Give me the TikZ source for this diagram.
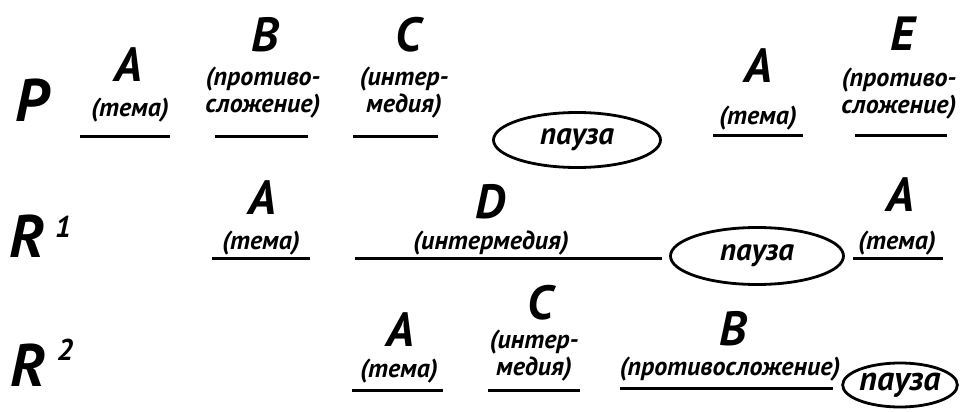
\documentclass[tikz,border=0pt]{standalone}
\usepackage{fontspec}
\setmainfont{PT Sans}
\usetikzlibrary{shapes.geometric}
\begin{document}
\begin{tikzpicture}[x=1pt,y=-1pt,
  big/.style={font=\fontsize{48}{48}\selectfont\bfseries\itshape, inner sep=0pt, text depth=0pt},
  rowlab/.style={font=\fontsize{60}{60}\selectfont\bfseries\itshape, inner sep=0pt},
  sup/.style={font=\fontsize{30}{30}\selectfont\bfseries\itshape, inner sep=0pt},
  lab/.style={font=\fontsize{26}{27}\selectfont\bfseries\itshape, inner sep=0pt, align=center},
  ul/.style={line width=3pt},
  pausebox/.style={ellipse, draw, line width=2.8pt, inner sep=0pt, font=\fontsize{31}{31}\selectfont\bfseries\itshape}
]
\useasboundingbox (0,0) rectangle (967,412);
% Row P
\node[rowlab] (P) at (32,100) {P};
\node[big] (pA) at (128,65) {A};
\node[lab] (pAt) at (130,110) {(тема)};
\draw[ul] (80,136) -- (170,136);
\node[big] (pB) at (265,34) {B};
\node[lab] (pBt) at (263,93) {(противо-\\сложение)};
\draw[ul] (215,136) -- (308,136);
\node[big] (pC) at (408,34) {C};
\node[lab] (pCt) at (404,93) {(интер-\\медия)};
\draw[ul] (353,136) -- (438,136);
\node[pausebox, minimum width=167, minimum height=55] (pP) at (577,140) {пауза};
\node[big] (pA2) at (758,66) {A};
\node[lab] (pA2t) at (758,118) {(тема)};
\draw[ul] (713,135) -- (803,135);
\node[big] (pE) at (903,34) {E};
\node[lab] (pEt) at (899,94) {(противо-\\сложение)};
\draw[ul] (855,135) -- (947,135);
% Row R1
\node[rowlab] (R1) at (27,236) {R};
\node[sup] (R1s) at (63,227) {1};
\node[big] (rA) at (262,198) {A};
\node[lab] (rAt) at (261,243) {(тема)};
\draw[ul] (212,258) -- (310,258);
\node[big] (rD) at (490,201) {D};
\node[lab] (rDt) at (491,243) {(интермедия)};
\draw[ul] (355,258) -- (662,258);
\node[pausebox, minimum width=173, minimum height=57] (rP) at (757,256) {пауза};
\node[big] (rA2) at (900,195) {A};
\node[lab] (rA2t) at (897,243) {(тема)};
\draw[ul] (853,258) -- (943,258);
% Row R2
\node[rowlab] (R2) at (28,365) {R};
\node[sup] (R2s) at (65,350) {2};
\node[big] (sA) at (400,330) {A};
\node[lab] (sAt) at (399,371) {(тема)};
\draw[ul] (352,390) -- (443,390);
\node[big] (sC) at (540,302) {C};
\node[lab] (sCt) at (534,356) {(интер-\\медия)};
\draw[ul] (488,390) -- (580,390);
\node[big] (sB) at (733,328) {B};
\node[lab] (sBt) at (730,369) {(противосложение)};
\draw[ul] (620,388) -- (833,388);
\node[pausebox, minimum width=108, minimum height=44, font=\fontsize{34}{34}\selectfont\bfseries\itshape] (sP) at (900,385) {пауза};
\end{tikzpicture}
\end{document}
